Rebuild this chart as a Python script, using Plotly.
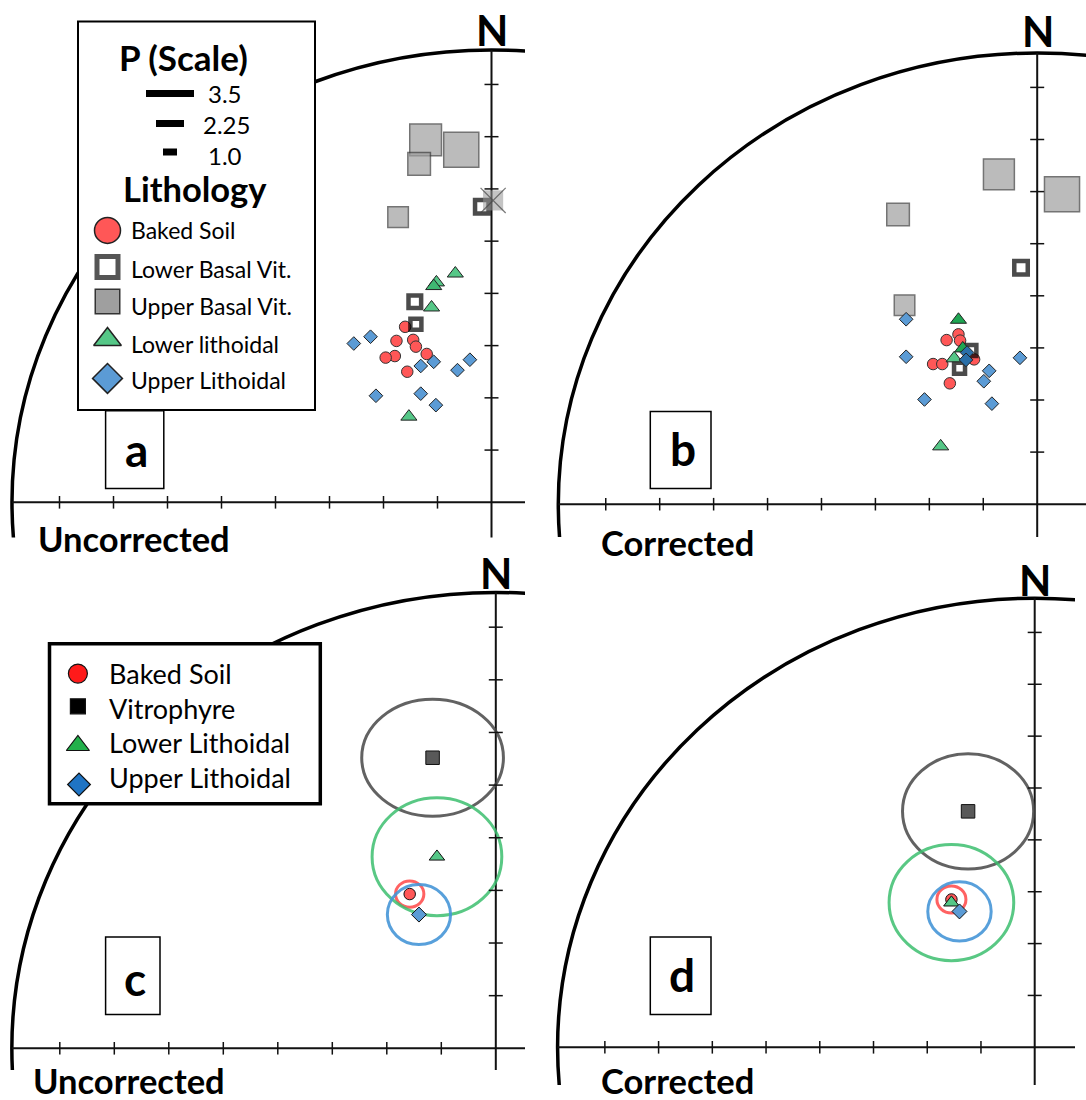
import plotly.graph_objects as go

# ------------------------------------------------------------------ data
# Stereonet tick marks (every 10 units along each axis)
TICKS = [10, 20, 30, 40, 50, 60, 70, 80]

# Panel a (Uncorrected) – site directions in projected (east, north) units
A_BAKED_X = [-16.0, -17.6, -14.5, -14.0, -17.9, -19.6, -12.0, -15.6]
A_BAKED_Y = [33.6, 30.9, 31.1, 29.8, 28.0, 27.7, 28.4, 25.0]
A_UBV_X = [-12.2, -5.6, -13.4, -17.3]
A_UBV_Y = [69.4, 67.5, 64.8, 54.6]
A_UBV_P = [3.1, 3.5, 2.0, 1.75]
A_REJ_X = [0.3]
A_REJ_Y = [57.8]
A_REJ_P = [1.7]
A_LBV_X = [-1.8, -14.2, -14.0]
A_LBV_Y = [56.6, 38.4, 34.1]
A_LBV_P = [0.9, 0.8, 0.6]
A_LL_X = [-6.7, -10.2, -10.7, -11.1, -15.3]
A_LL_Y = [43.8, 42.1, 41.4, 37.3, 16.4]
A_UL_X = [-25.5, -22.4, -10.7, -13.1, -4.0, -6.3, -21.4, -13.1, -10.3]
A_UL_Y = [30.4, 31.7, 26.9, 26.1, 27.3, 25.3, 20.4, 20.8, 18.6]

# Panel b (Corrected)
B_BAKED_X = [-16.8, -14.6, -14.3, -19.3, -17.6, -11.7, -16.2]
B_BAKED_Y = [31.5, 32.6, 31.4, 26.9, 26.9, 27.8, 23.2]
B_UBV_X = [-7.1, 4.6, -25.8, -24.6]
B_UBV_Y = [63.3, 59.5, 55.6, 38.2]
B_UBV_P = [3.0, 3.5, 2.0, 1.75]
B_LBV_X = [-3.0, -12.3, -14.4]
B_LBV_Y = [45.4, 29.5, 26.1]
B_LBV_P = [0.9, 0.6, 0.6]
B_LL_X = [-15.4, -17.9, -14.6, -13.8]
B_LL_Y = [28.0, 11.1, 35.4, 29.9]
B_UL_X = [-24.3, -24.3, -3.2, -8.9, -9.9, -20.9, -8.4, -13.0, -13.2]
B_UL_Y = [35.5, 28.3, 28.1, 25.6, 23.6, 20.1, 19.3, 29.1, 27.7]

# Panels c / d – unit means and a95 ellipses
UNITS = ["Baked Soil", "Vitrophyre", "Lower Lithoidal", "Upper Lithoidal"]
C_MEAN_X = [-15.8, -11.6, -10.8, -14.1]
C_MEAN_Y = [29.3, 55.2, 36.4, 25.4]
C_A95_X = [2.6, 13.0, 11.9, 5.8]
C_A95_Y = [2.5, 11.1, 11.2, 5.7]
D_MEAN_X = [-15.5, -12.4, -15.5, -14.0]
D_MEAN_Y = [28.5, 45.5, 27.9, 26.2]
D_A95_X = [2.7, 12.2, 11.6, 5.9]
D_A95_Y = [2.6, 11.1, 11.2, 5.7]

SCALE_P = [3.5, 2.25, 1.0]
SCALE_LABELS = ["3.5", "2.25", "1.0"]
LITH_A = ["Baked Soil", "Lower Basal Vit.", "Upper Basal Vit.", "Lower lithoidal", "Upper Lithoidal"]

# ------------------------------------------------------------------ layout helpers
W, H = 1086, 1100
ARC_RX, ARC_RY = 88.8, 86.6
FONT = "Lato"

# plot box (px: left, right, top, bottom), origin px, px per 10 units
PANELS = [
    dict(box=(0, 525, 0, 537.5), o=(491.5, 502.3), s=(54.0, 52.23)),
    dict(box=(543, 1086, 0, 537), o=(1037.2, 504.2), s=(53.93, 52.1)),
    dict(box=(0, 525, 560, 1070), o=(495.8, 1048.3), s=(54.5, 52.64)),
    dict(box=(543, 1075, 560, 1085), o=(1034.7, 1047.3), s=(53.73, 51.86)),
]

fig = go.Figure()
layout_axes = {}
shapes = []
annotations = []

for i, p in enumerate(PANELS):
    n = "" if i == 0 else str(i + 1)
    l, r, t, b = p["box"]
    ox, oy = p["o"]
    sx, sy = p["s"]
    xr = [(l - ox) / sx * 10, (r - ox) / sx * 10]
    yr = [(oy - b) / sy * 10, (oy - t) / sy * 10]
    layout_axes["xaxis" + n] = dict(domain=[l / W, r / W], range=xr, visible=False,
                                    fixedrange=True, anchor="y" + n)
    layout_axes["yaxis" + n] = dict(domain=[1 - b / H, 1 - t / H], range=yr, visible=False,
                                    fixedrange=True, anchor="x" + n)
    xref, yref = "x" + n, "y" + n
    # primitive circle
    shapes.append(dict(type="circle", xref=xref, yref=yref, x0=-ARC_RX, x1=ARC_RX,
                       y0=-ARC_RY, y1=ARC_RY, line=dict(color="black", width=3.5), layer="below"))
    # axes
    shapes.append(dict(type="line", xref=xref, yref=yref, x0=-ARC_RX, x1=xr[1] + 5, y0=0, y1=0,
                       line=dict(color="#111", width=2), layer="below"))
    shapes.append(dict(type="line", xref=xref, yref=yref, x0=0, x1=0, y0=yr[0] - 5, y1=ARC_RY,
                       line=dict(color="#111", width=2), layer="below"))
    fig.add_trace(go.Scatter(x=[-t_ for t_ in TICKS], y=[0] * len(TICKS), mode="markers",
                             marker=dict(symbol="line-ns", size=9, line=dict(color="#111", width=1.5)),
                             xaxis=xref, yaxis=yref))
    fig.add_trace(go.Scatter(x=[0] * len(TICKS), y=TICKS, mode="markers",
                             marker=dict(symbol="line-ew", size=10, line=dict(color="#111", width=1.5)),
                             xaxis=xref, yaxis=yref))

# overlay axis in pixel space for legends / labels
layout_axes["xaxis5"] = dict(domain=[0, 1], range=[0, W], visible=False, fixedrange=True, anchor="y5")
layout_axes["yaxis5"] = dict(domain=[0, 1], range=[H, 0], visible=False, fixedrange=True, anchor="x5")


def psize(P):
    return [6 + 8.3 * v for v in P]


C_RED = "#FF5757"
C_GRAY = "#9F9F9F"
C_GREEN = "#55C787"
C_GREEN_DK = "#1FA552"
C_BLUE = "#5B9BD5"
C_BLUE_DK = "#2A6FA8"


def site_traces(ax, ay, ubx, uby, ubp, bkx, bky, lbx, lby, lbp, llx, lly, ulx, uly, ll_col, ul_col):
    out = []
    out.append(go.Scatter(x=ubx, y=uby, mode="markers", xaxis=ax, yaxis=ay, name="Upper Basal Vit.",
                          marker=dict(symbol="square", size=psize(ubp), color=C_GRAY,
                                      line=dict(color="#3A3A3A", width=1.5))))
    out.append(go.Scatter(x=bkx, y=bky, mode="markers", xaxis=ax, yaxis=ay, name="Baked Soil",
                          marker=dict(symbol="circle", size=11.5, color=C_RED,
                                      line=dict(color="#333", width=1))))
    out.append(go.Scatter(x=lbx, y=lby, mode="markers", xaxis=ax, yaxis=ay, name="Lower Basal Vit.",
                          marker=dict(symbol="square", size=psize(lbp), color="white",
                                      line=dict(color="#000000", width=4.5))))
    out.append(go.Scatter(x=llx, y=lly, mode="markers", xaxis=ax, yaxis=ay, name="Lower lithoidal",
                          marker=dict(symbol="triangle-up", size=14, color=ll_col,
                                      line=dict(color="#222", width=1))))
    out.append(go.Scatter(x=ulx, y=uly, mode="markers", xaxis=ax, yaxis=ay, name="Upper Lithoidal",
                          marker=dict(symbol="diamond", size=10.5, color=ul_col,
                                      line=dict(color="#222", width=1))))
    return out


for tr in site_traces("x", "y", A_UBV_X, A_UBV_Y, A_UBV_P, A_BAKED_X, A_BAKED_Y,
                      A_LBV_X, A_LBV_Y, A_LBV_P, A_LL_X, A_LL_Y, A_UL_X, A_UL_Y,
                      [C_GREEN, C_GREEN, "#3FB872", C_GREEN, C_GREEN], C_BLUE):
    fig.add_trace(tr)
# rejected (crossed) vitrophyre site
fig.add_trace(go.Scatter(x=A_REJ_X, y=A_REJ_Y, mode="markers", xaxis="x", yaxis="y",
                         marker=dict(symbol="square", size=psize(A_REJ_P), color="rgba(150,150,150,0.8)",
                                     line=dict(width=0))))
fig.add_trace(go.Scatter(x=A_REJ_X, y=A_REJ_Y, mode="markers", xaxis="x", yaxis="y",
                         marker=dict(symbol="x-thin-open", size=[s * 1.25 for s in psize(A_REJ_P)],
                                     color="#444", line=dict(color="#444", width=1.3))))
for tr in site_traces("x2", "y2", B_UBV_X, B_UBV_Y, B_UBV_P, B_BAKED_X, B_BAKED_Y,
                      B_LBV_X, B_LBV_Y, B_LBV_P, B_LL_X, B_LL_Y, B_UL_X, B_UL_Y,
                      [C_GREEN, C_GREEN, C_GREEN_DK, C_GREEN_DK],
                      [C_BLUE] * 7 + [C_BLUE_DK, C_BLUE_DK]):
    fig.add_trace(tr)

# unit means with a95 ellipses
MEAN_SYM = ["circle", "square", "triangle-up", "diamond"]
MEAN_SIZE = [11.5, 13.5, 13.5, 11.5]
MEAN_FILL = ["#FF5757", "#595959", "#55C787", "#5B9BD5"]
ELL_COL = ["rgba(255,70,70,0.85)", "rgba(70,70,70,0.85)", "rgba(60,190,110,0.85)", "rgba(70,150,215,0.9)"]
for (ax, ay, mx, my, ex, ey) in [("x3", "y3", C_MEAN_X, C_MEAN_Y, C_A95_X, C_A95_Y),
                                 ("x4", "y4", D_MEAN_X, D_MEAN_Y, D_A95_X, D_A95_Y)]:
    for k in range(len(UNITS)):
        shapes.append(dict(type="circle", xref=ax, yref=ay, x0=mx[k] - ex[k], x1=mx[k] + ex[k],
                           y0=my[k] - ey[k], y1=my[k] + ey[k],
                           line=dict(color=ELL_COL[k], width=3), layer="below"))
    for k in [1, 0, 2, 3]:
        fig.add_trace(go.Scatter(x=[mx[k]], y=[my[k]], mode="markers", xaxis=ax, yaxis=ay, name=UNITS[k],
                                 marker=dict(symbol=MEAN_SYM[k], size=MEAN_SIZE[k], color=MEAN_FILL[k],
                                             line=dict(color="#111", width=1))))

# ------------------------------------------------------------------ legends & labels (pixel overlay)
def box(x0, x1, y0, y1, w):
    shapes.append(dict(type="rect", xref="x5", yref="y5", x0=x0, x1=x1, y0=y0, y1=y1,
                       fillcolor="white", line=dict(color="black", width=w), layer="below"))


def text(x, y, s, size, bold=False, xanchor="center"):
    annotations.append(dict(xref="x5", yref="y5", x=x, y=y, text=("<b>%s</b>" % s) if bold else s,
                            showarrow=False, xanchor=xanchor, yanchor="middle",
                            font=dict(family=FONT, size=size, color="black")))


# legend a
box(78, 315, 21.4, 410, 2)
box(105.6, 163.8, 410.7, 488.6, 1.5)
text(183.5, 57, "P (Scale)", 35, True)
scale_len = [48, 28, 14]
scale_y = [93.6, 123.5, 152]
scale_lab_x = [206, 201, 206]
scale_lab_y = [93.6, 124.5, 155]
for k, P in enumerate(SCALE_P):
    cx = 170
    shapes.append(dict(type="line", xref="x5", yref="y5", x0=cx - scale_len[k] / 2, x1=cx + scale_len[k] / 2,
                       y0=scale_y[k], y1=scale_y[k], line=dict(color="black", width=7), layer="above"))
    text(scale_lab_x[k], scale_lab_y[k], SCALE_LABELS[k], 24, xanchor="left")
text(194.5, 188, "Lithology", 34.5, True)
leg_y = [230.4, 268.6, 306.4, 343.6, 380.4]
for k, lab in enumerate(LITH_A):
    text(128.8, leg_y[k], lab, 23, xanchor="left")
sw = [
    dict(y=230.4, symbol="circle", size=26, color=C_RED, line=dict(color="#222", width=1.5)),
    dict(y=267, symbol="square", size=21, color="white", line=dict(color="#555", width=5)),
    dict(y=301.4, symbol="square", size=24.5, color=C_GRAY, line=dict(color="#333", width=1.5)),
    dict(y=339.5, symbol="triangle-up", size=24, color=C_GREEN, line=dict(color="#222", width=1.5)),
    dict(y=378.4, symbol="diamond", size=23, color=C_BLUE, line=dict(color="#222", width=1.5)),
]
for s in sw:
    fig.add_trace(go.Scatter(x=[107.5], y=[s["y"]], mode="markers", xaxis="x5", yaxis="y5",
                             marker=dict(symbol=s["symbol"], size=s["size"], color=s["color"], line=s["line"])))

# legend c
box(49.5, 320.3, 643.7, 803.8, 3.5)
c_leg_y = [673.6, 708, 742.5, 777.6]
for k, lab in enumerate(UNITS):
    text(106.6, c_leg_y[k], lab, 27, xanchor="left")
swc = [
    dict(x=77.9, y=673.6, symbol="circle", size=19, color="#FF1A1A"),
    dict(x=77.9, y=706.3, symbol="square", size=15, color="#000000"),
    dict(x=77.9, y=745.5, symbol="triangle-up", size=20, color="#22B04B"),
    dict(x=79, y=784.5, symbol="diamond", size=17.5, color="#1F74C4"),
]
for s in swc:
    fig.add_trace(go.Scatter(x=[s["x"]], y=[s["y"]], mode="markers", xaxis="x5", yaxis="y5",
                             marker=dict(symbol=s["symbol"], size=s["size"], color=s["color"],
                                         line=dict(color="#111", width=1.2))))

# panel labels
box(650.3, 711, 411.4, 488.6, 1.5)
box(105.6, 160, 937, 1014.5, 1.5)
box(650.3, 711, 937, 1014.5, 1.5)
text(136.8, 449, "a", 46, True)
text(683, 448, "b", 46, True)
text(135, 978, "c", 46, True)
text(682, 974, "d", 46, True)
text(134, 538, "Uncorrected", 34.5, True)
text(677, 542, "Corrected", 34.5, True)
text(129, 1080.5, "Uncorrected", 34.5, True)
text(677, 1080, "Corrected", 34.5, True)
text(491.7, 30, "N", 42, True)
text(1038, 31, "N", 42, True)
text(496, 573, "N", 42, True)
text(1035, 580, "N", 42, True)

fig.update_traces(showlegend=False, hoverinfo="skip")
fig.update_layout(width=W, height=H, autosize=False, margin=dict(l=0, r=0, t=0, b=0, pad=0),
                  paper_bgcolor="white", plot_bgcolor="rgba(0,0,0,0)", showlegend=False,
                  shapes=shapes, annotations=annotations, **layout_axes)

fig.write_html("out.html", config={"displayModeBar": False},
               post_script="document.body.style.margin='0px';document.body.style.padding='0px';"
                           "document.documentElement.style.overflow='hidden';")
